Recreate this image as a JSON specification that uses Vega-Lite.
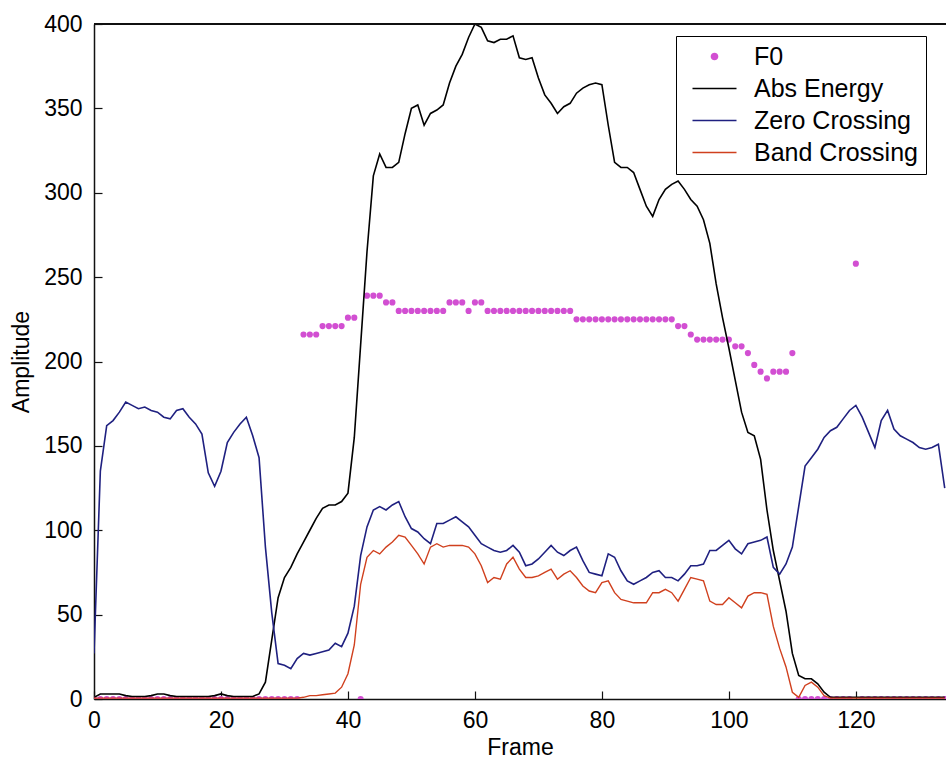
{
  "$schema": "https://vega.github.io/schema/vega-lite/v6.json",
  "width": 852,
  "height": 675,
  "autosize": {"type": "none"},
  "padding": {"left": 94, "top": 24, "right": 0, "bottom": 68},
  "background": "white",
  "config": {
    "view": {"stroke": null},
    "font": "Liberation Sans",
    "axis": {
      "labelFont": "Liberation Sans",
      "labelFontSize": 23,
      "labelColor": "black",
      "titleFont": "Liberation Sans",
      "titleFontSize": 23,
      "titleFontWeight": "normal",
      "titleColor": "black",
      "domainColor": "#111",
      "domainWidth": 1.5,
      "tickColor": "#111",
      "tickWidth": 1.2,
      "tickSize": -8,
      "grid": false,
      "labelFlush": false,
      "labelOverlap": false
    },
    "legend": {
      "orient": "none",
      "legendX": 582,
      "legendY": 12,
      "labelFont": "Liberation Sans",
      "labelFontSize": 25,
      "labelColor": "black",
      "labelLimit": 400,
      "rowPadding": 6,
      "padding": 8,
      "strokeColor": "black",
      "fillColor": "white",
      "labelOffset": 27,
      "symbolOffset": 18
    }
  },
  "data": {
    "values": [
      {"frame":0,"F0":0,"Abs Energy":1,"Zero Crossing":27,"Band Crossing":0.5},
      {"frame":1,"F0":0,"Abs Energy":3,"Zero Crossing":135,"Band Crossing":0.5},
      {"frame":2,"F0":0,"Abs Energy":3,"Zero Crossing":162,"Band Crossing":0.5},
      {"frame":3,"F0":0,"Abs Energy":3,"Zero Crossing":165,"Band Crossing":0.5},
      {"frame":4,"F0":0,"Abs Energy":3,"Zero Crossing":170,"Band Crossing":0.5},
      {"frame":5,"F0":0,"Abs Energy":2,"Zero Crossing":176,"Band Crossing":0.5},
      {"frame":6,"F0":0,"Abs Energy":1.5,"Zero Crossing":174,"Band Crossing":0.5},
      {"frame":7,"F0":0,"Abs Energy":1.5,"Zero Crossing":172,"Band Crossing":0.5},
      {"frame":8,"F0":0,"Abs Energy":1.5,"Zero Crossing":173,"Band Crossing":0.5},
      {"frame":9,"F0":0,"Abs Energy":2,"Zero Crossing":171,"Band Crossing":0.5},
      {"frame":10,"F0":0,"Abs Energy":3,"Zero Crossing":170,"Band Crossing":0.5},
      {"frame":11,"F0":0,"Abs Energy":3,"Zero Crossing":167,"Band Crossing":0.5},
      {"frame":12,"F0":0,"Abs Energy":2,"Zero Crossing":166,"Band Crossing":0.5},
      {"frame":13,"F0":0,"Abs Energy":1.5,"Zero Crossing":171,"Band Crossing":0.5},
      {"frame":14,"F0":0,"Abs Energy":1.5,"Zero Crossing":172,"Band Crossing":0.5},
      {"frame":15,"F0":0,"Abs Energy":1.5,"Zero Crossing":167,"Band Crossing":0.5},
      {"frame":16,"F0":0,"Abs Energy":1.5,"Zero Crossing":163,"Band Crossing":0.5},
      {"frame":17,"F0":0,"Abs Energy":1.5,"Zero Crossing":157,"Band Crossing":0.5},
      {"frame":18,"F0":0,"Abs Energy":1.5,"Zero Crossing":134,"Band Crossing":0.5},
      {"frame":19,"F0":0,"Abs Energy":2,"Zero Crossing":126,"Band Crossing":0.5},
      {"frame":20,"F0":0,"Abs Energy":3,"Zero Crossing":135,"Band Crossing":0.5},
      {"frame":21,"F0":0,"Abs Energy":2,"Zero Crossing":152,"Band Crossing":0.5},
      {"frame":22,"F0":0,"Abs Energy":1.5,"Zero Crossing":158,"Band Crossing":0.5},
      {"frame":23,"F0":0,"Abs Energy":1.5,"Zero Crossing":163,"Band Crossing":0.5},
      {"frame":24,"F0":0,"Abs Energy":1.5,"Zero Crossing":167,"Band Crossing":0.5},
      {"frame":25,"F0":0,"Abs Energy":1.5,"Zero Crossing":156,"Band Crossing":0.5},
      {"frame":26,"F0":0,"Abs Energy":3,"Zero Crossing":143,"Band Crossing":0.5},
      {"frame":27,"F0":0,"Abs Energy":10,"Zero Crossing":90,"Band Crossing":0.5},
      {"frame":28,"F0":0,"Abs Energy":35,"Zero Crossing":51,"Band Crossing":0.5},
      {"frame":29,"F0":0,"Abs Energy":60,"Zero Crossing":21,"Band Crossing":0.5},
      {"frame":30,"F0":0,"Abs Energy":72,"Zero Crossing":20,"Band Crossing":0.5},
      {"frame":31,"F0":0,"Abs Energy":78,"Zero Crossing":18,"Band Crossing":0.5},
      {"frame":32,"F0":0,"Abs Energy":86,"Zero Crossing":24,"Band Crossing":0.5},
      {"frame":33,"F0":216,"Abs Energy":93,"Zero Crossing":27,"Band Crossing":1},
      {"frame":34,"F0":216,"Abs Energy":100,"Zero Crossing":26,"Band Crossing":2},
      {"frame":35,"F0":216,"Abs Energy":107,"Zero Crossing":27,"Band Crossing":2},
      {"frame":36,"F0":221,"Abs Energy":113,"Zero Crossing":28,"Band Crossing":2.5},
      {"frame":37,"F0":221,"Abs Energy":115,"Zero Crossing":29,"Band Crossing":3},
      {"frame":38,"F0":221,"Abs Energy":115,"Zero Crossing":33,"Band Crossing":3.5},
      {"frame":39,"F0":221,"Abs Energy":117,"Zero Crossing":31,"Band Crossing":7},
      {"frame":40,"F0":226,"Abs Energy":122,"Zero Crossing":39,"Band Crossing":15},
      {"frame":41,"F0":226,"Abs Energy":155,"Zero Crossing":55,"Band Crossing":32},
      {"frame":42,"F0":0,"Abs Energy":210,"Zero Crossing":85,"Band Crossing":68},
      {"frame":43,"F0":239,"Abs Energy":265,"Zero Crossing":102,"Band Crossing":84},
      {"frame":44,"F0":239,"Abs Energy":310,"Zero Crossing":112,"Band Crossing":88},
      {"frame":45,"F0":239,"Abs Energy":323,"Zero Crossing":114,"Band Crossing":86},
      {"frame":46,"F0":235,"Abs Energy":315,"Zero Crossing":112,"Band Crossing":90},
      {"frame":47,"F0":235,"Abs Energy":315,"Zero Crossing":115,"Band Crossing":93},
      {"frame":48,"F0":230,"Abs Energy":318,"Zero Crossing":117,"Band Crossing":97},
      {"frame":49,"F0":230,"Abs Energy":335,"Zero Crossing":108,"Band Crossing":96},
      {"frame":50,"F0":230,"Abs Energy":350,"Zero Crossing":101,"Band Crossing":91},
      {"frame":51,"F0":230,"Abs Energy":352,"Zero Crossing":99,"Band Crossing":86},
      {"frame":52,"F0":230,"Abs Energy":340,"Zero Crossing":95,"Band Crossing":80},
      {"frame":53,"F0":230,"Abs Energy":347,"Zero Crossing":92,"Band Crossing":90},
      {"frame":54,"F0":230,"Abs Energy":349,"Zero Crossing":104,"Band Crossing":92},
      {"frame":55,"F0":230,"Abs Energy":352,"Zero Crossing":104,"Band Crossing":90},
      {"frame":56,"F0":235,"Abs Energy":365,"Zero Crossing":106,"Band Crossing":91},
      {"frame":57,"F0":235,"Abs Energy":375,"Zero Crossing":108,"Band Crossing":91},
      {"frame":58,"F0":235,"Abs Energy":382,"Zero Crossing":105,"Band Crossing":91},
      {"frame":59,"F0":230,"Abs Energy":392,"Zero Crossing":102,"Band Crossing":90},
      {"frame":60,"F0":235,"Abs Energy":400,"Zero Crossing":97,"Band Crossing":86},
      {"frame":61,"F0":235,"Abs Energy":398,"Zero Crossing":92,"Band Crossing":79},
      {"frame":62,"F0":230,"Abs Energy":390,"Zero Crossing":90,"Band Crossing":69},
      {"frame":63,"F0":230,"Abs Energy":389,"Zero Crossing":88,"Band Crossing":72},
      {"frame":64,"F0":230,"Abs Energy":391,"Zero Crossing":87,"Band Crossing":71},
      {"frame":65,"F0":230,"Abs Energy":391,"Zero Crossing":88,"Band Crossing":80},
      {"frame":66,"F0":230,"Abs Energy":393,"Zero Crossing":91,"Band Crossing":84},
      {"frame":67,"F0":230,"Abs Energy":380,"Zero Crossing":87,"Band Crossing":77},
      {"frame":68,"F0":230,"Abs Energy":379,"Zero Crossing":79,"Band Crossing":72},
      {"frame":69,"F0":230,"Abs Energy":380,"Zero Crossing":80,"Band Crossing":72},
      {"frame":70,"F0":230,"Abs Energy":368,"Zero Crossing":83,"Band Crossing":73},
      {"frame":71,"F0":230,"Abs Energy":358,"Zero Crossing":87,"Band Crossing":75},
      {"frame":72,"F0":230,"Abs Energy":353,"Zero Crossing":91,"Band Crossing":77},
      {"frame":73,"F0":230,"Abs Energy":347,"Zero Crossing":87,"Band Crossing":71},
      {"frame":74,"F0":230,"Abs Energy":351,"Zero Crossing":85,"Band Crossing":74},
      {"frame":75,"F0":230,"Abs Energy":353,"Zero Crossing":88,"Band Crossing":76},
      {"frame":76,"F0":225,"Abs Energy":359,"Zero Crossing":90,"Band Crossing":72},
      {"frame":77,"F0":225,"Abs Energy":362,"Zero Crossing":82,"Band Crossing":67},
      {"frame":78,"F0":225,"Abs Energy":364,"Zero Crossing":75,"Band Crossing":64},
      {"frame":79,"F0":225,"Abs Energy":365,"Zero Crossing":74,"Band Crossing":63},
      {"frame":80,"F0":225,"Abs Energy":364,"Zero Crossing":73,"Band Crossing":69},
      {"frame":81,"F0":225,"Abs Energy":340,"Zero Crossing":86,"Band Crossing":70},
      {"frame":82,"F0":225,"Abs Energy":318,"Zero Crossing":84,"Band Crossing":63},
      {"frame":83,"F0":225,"Abs Energy":315,"Zero Crossing":76,"Band Crossing":59},
      {"frame":84,"F0":225,"Abs Energy":315,"Zero Crossing":70,"Band Crossing":58},
      {"frame":85,"F0":225,"Abs Energy":312,"Zero Crossing":68,"Band Crossing":57},
      {"frame":86,"F0":225,"Abs Energy":302,"Zero Crossing":70,"Band Crossing":57},
      {"frame":87,"F0":225,"Abs Energy":292,"Zero Crossing":72,"Band Crossing":57},
      {"frame":88,"F0":225,"Abs Energy":286,"Zero Crossing":75,"Band Crossing":63},
      {"frame":89,"F0":225,"Abs Energy":296,"Zero Crossing":76,"Band Crossing":63},
      {"frame":90,"F0":225,"Abs Energy":302,"Zero Crossing":72,"Band Crossing":65},
      {"frame":91,"F0":225,"Abs Energy":305,"Zero Crossing":72,"Band Crossing":63},
      {"frame":92,"F0":221,"Abs Energy":307,"Zero Crossing":70,"Band Crossing":58},
      {"frame":93,"F0":221,"Abs Energy":302,"Zero Crossing":74,"Band Crossing":65},
      {"frame":94,"F0":216,"Abs Energy":296,"Zero Crossing":79,"Band Crossing":72},
      {"frame":95,"F0":213,"Abs Energy":292,"Zero Crossing":79,"Band Crossing":71},
      {"frame":96,"F0":213,"Abs Energy":284,"Zero Crossing":80,"Band Crossing":70},
      {"frame":97,"F0":213,"Abs Energy":270,"Zero Crossing":88,"Band Crossing":58},
      {"frame":98,"F0":213,"Abs Energy":246,"Zero Crossing":88,"Band Crossing":56},
      {"frame":99,"F0":213,"Abs Energy":226,"Zero Crossing":91,"Band Crossing":56},
      {"frame":100,"F0":213,"Abs Energy":208,"Zero Crossing":94,"Band Crossing":60},
      {"frame":101,"F0":209,"Abs Energy":189,"Zero Crossing":89,"Band Crossing":57},
      {"frame":102,"F0":209,"Abs Energy":170,"Zero Crossing":86,"Band Crossing":54},
      {"frame":103,"F0":205,"Abs Energy":158,"Zero Crossing":92,"Band Crossing":61},
      {"frame":104,"F0":198,"Abs Energy":156,"Zero Crossing":93,"Band Crossing":63},
      {"frame":105,"F0":194,"Abs Energy":142,"Zero Crossing":94,"Band Crossing":63},
      {"frame":106,"F0":190,"Abs Energy":112,"Zero Crossing":96,"Band Crossing":62},
      {"frame":107,"F0":194,"Abs Energy":88,"Zero Crossing":78,"Band Crossing":43},
      {"frame":108,"F0":194,"Abs Energy":70,"Zero Crossing":74,"Band Crossing":30},
      {"frame":109,"F0":194,"Abs Energy":52,"Zero Crossing":80,"Band Crossing":19},
      {"frame":110,"F0":205,"Abs Energy":27,"Zero Crossing":90,"Band Crossing":4},
      {"frame":111,"F0":0,"Abs Energy":14,"Zero Crossing":114,"Band Crossing":1},
      {"frame":112,"F0":0,"Abs Energy":12,"Zero Crossing":138,"Band Crossing":8},
      {"frame":113,"F0":0,"Abs Energy":12,"Zero Crossing":143,"Band Crossing":10},
      {"frame":114,"F0":0,"Abs Energy":9,"Zero Crossing":148,"Band Crossing":7},
      {"frame":115,"F0":0,"Abs Energy":4,"Zero Crossing":155,"Band Crossing":2},
      {"frame":116,"F0":0,"Abs Energy":1,"Zero Crossing":159,"Band Crossing":0.5},
      {"frame":117,"F0":0,"Abs Energy":1,"Zero Crossing":161,"Band Crossing":0.5},
      {"frame":118,"F0":0,"Abs Energy":1,"Zero Crossing":166,"Band Crossing":0.5},
      {"frame":119,"F0":0,"Abs Energy":1,"Zero Crossing":171,"Band Crossing":0.5},
      {"frame":120,"F0":258,"Abs Energy":1,"Zero Crossing":174,"Band Crossing":0.5},
      {"frame":121,"F0":0,"Abs Energy":1,"Zero Crossing":167,"Band Crossing":0.5},
      {"frame":122,"F0":0,"Abs Energy":1,"Zero Crossing":158,"Band Crossing":0.5},
      {"frame":123,"F0":0,"Abs Energy":1,"Zero Crossing":149,"Band Crossing":0.5},
      {"frame":124,"F0":0,"Abs Energy":1,"Zero Crossing":165,"Band Crossing":0.5},
      {"frame":125,"F0":0,"Abs Energy":1,"Zero Crossing":171,"Band Crossing":0.5},
      {"frame":126,"F0":0,"Abs Energy":1,"Zero Crossing":160,"Band Crossing":0.5},
      {"frame":127,"F0":0,"Abs Energy":1,"Zero Crossing":156,"Band Crossing":0.5},
      {"frame":128,"F0":0,"Abs Energy":1,"Zero Crossing":154,"Band Crossing":0.5},
      {"frame":129,"F0":0,"Abs Energy":1,"Zero Crossing":152,"Band Crossing":0.5},
      {"frame":130,"F0":0,"Abs Energy":1,"Zero Crossing":149,"Band Crossing":0.5},
      {"frame":131,"F0":0,"Abs Energy":1,"Zero Crossing":148,"Band Crossing":0.5},
      {"frame":132,"F0":0,"Abs Energy":1,"Zero Crossing":149,"Band Crossing":0.5},
      {"frame":133,"F0":0,"Abs Energy":1,"Zero Crossing":151,"Band Crossing":0.5},
      {"frame":134,"F0":0,"Abs Energy":1,"Zero Crossing":125,"Band Crossing":0.5}
    ]
  },
  "transform": [
    {"fold": ["F0", "Abs Energy", "Zero Crossing", "Band Crossing"], "as": ["series", "value"]}
  ],
  "encoding": {
    "x": {
      "field": "frame", "type": "quantitative",
      "scale": {"domain": [0, 134.2], "nice": false, "zero": false},
      "axis": {"values": [0, 20, 40, 60, 80, 100, 120], "title": "Frame", "labelPadding": 18, "titlePadding": 4}
    },
    "y": {
      "field": "value", "type": "quantitative",
      "scale": {"domain": [0, 400], "nice": false},
      "axis": {"values": [0, 50, 100, 150, 200, 250, 300, 350, 400], "title": "Amplitude", "labelPadding": 20, "titlePadding": 10}
    },
    "color": {
      "field": "series", "type": "nominal",
      "scale": {
        "domain": ["F0", "Abs Energy", "Zero Crossing", "Band Crossing"],
        "range": ["#d24fd2", "#000000", "#1f2080", "#d0401e"]
      },
      "legend": {
        "title": null,
        "encode": {
          "symbols": {
            "update": {
              "shape": {"signal": "datum.value === 'F0' ? 'circle' : 'M-2,0H2'"},
              "size": {"signal": "datum.value === 'F0' ? 38 : 484"},
              "strokeWidth": {"value": 1.5},
              "stroke": {"signal": "scale('color', datum.value)"},
              "fill": {"signal": "datum.value === 'F0' ? scale('color', datum.value) : 'transparent'"},
              "opacity": {"value": 1}
            }
          }
        }
      }
    }
  },
  "layer": [
    {
      "transform": [{"filter": "datum.series === 'F0'"}],
      "mark": {"type": "point", "filled": true, "size": 38, "opacity": 1, "clip": true}
    },
    {
      "transform": [{"filter": "datum.series === 'Abs Energy'"}],
      "mark": {"type": "line", "strokeWidth": 1.6, "clip": true}
    },
    {
      "transform": [{"filter": "datum.series === 'Zero Crossing'"}],
      "mark": {"type": "line", "strokeWidth": 1.6, "clip": true}
    },
    {
      "transform": [{"filter": "datum.series === 'Band Crossing'"}],
      "mark": {"type": "line", "strokeWidth": 1.4, "clip": true}
    },
    {
      "mark": {"type": "rule", "color": "#111", "strokeWidth": 1.5},
      "encoding": {"y": {"datum": 400}, "color": {"value": "#111"}, "x": {"datum": 0}, "x2": {"datum": 134.2}}
    }
  ]
}
